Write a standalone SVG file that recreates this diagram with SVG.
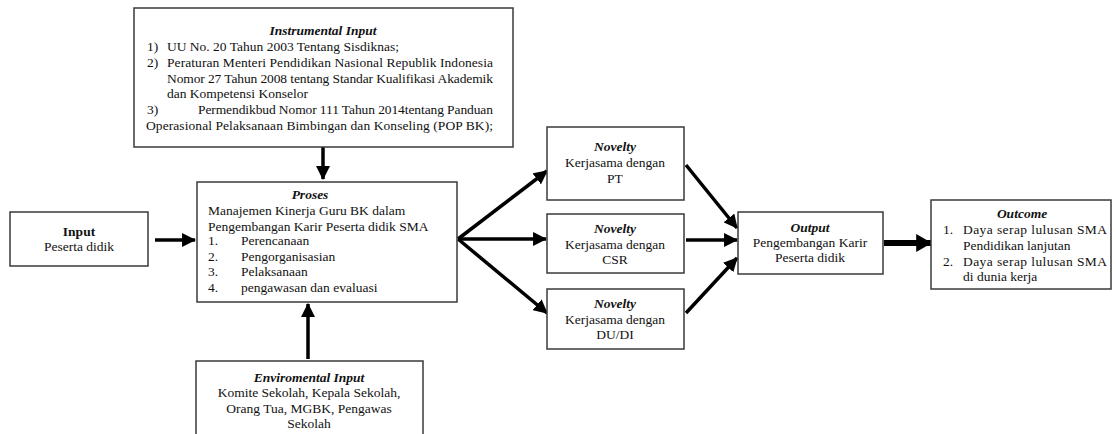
<svg xmlns="http://www.w3.org/2000/svg" width="1116" height="434" viewBox="0 0 1116 434">
<style>
.box{fill:#fff;stroke:#3a3a3a;stroke-width:1.5}
text{font-family:"Liberation Serif","Times New Roman",serif;font-size:13.5px;fill:#111}
.t{font-weight:bold;font-style:italic}
.b{font-weight:bold}
.c{text-anchor:middle}
.arr{stroke:#000;stroke-width:3.5;fill:none;marker-end:url(#ah)}
.arr2{stroke:#000;stroke-width:6;fill:none;marker-end:url(#ah2)}
</style>
<defs>
<marker id="ah" markerUnits="userSpaceOnUse" markerWidth="14" markerHeight="14" refX="12" refY="6.5" orient="auto" viewBox="0 0 13 13">
<path d="M0,0 L13,6.5 L0,13 Z" fill="#000"/>
</marker>
<marker id="ah2" markerUnits="userSpaceOnUse" markerWidth="16" markerHeight="18" refX="14" refY="8.5" orient="auto" viewBox="0 0 15 17">
<path d="M0,0 L15,8.5 L0,17 Z" fill="#000"/>
</marker>
</defs>
<g id="connectors">
<line class="arr" x1="323" y1="147" x2="323" y2="179"/>
<line class="arr" x1="155" y1="240" x2="195" y2="240"/>
<line class="arr" x1="308" y1="359" x2="308" y2="304"/>
<line class="arr" x1="458" y1="239" x2="547" y2="171"/>
<line class="arr" x1="458" y1="239" x2="546" y2="239"/>
<line class="arr" x1="458" y1="239" x2="547" y2="313"/>
<line class="arr" x1="686" y1="165" x2="737" y2="228"/>
<line class="arr" x1="686" y1="240" x2="737" y2="240"/>
<line class="arr" x1="686" y1="313" x2="737" y2="258"/>
<line class="arr2" x1="884" y1="243" x2="931" y2="243"/>
</g>
<g id="instrumental">
<rect class="box" x="134" y="8" width="379" height="139"/>
<text class="t c" x="323" y="35">Instrumental Input</text>
<text x="147" y="51">1)</text><text x="167" y="51">UU No. 20 Tahun 2003 Tentang Sisdiknas;</text>
<text x="147" y="67">2)</text><text x="167" y="67" textLength="326" lengthAdjust="spacing">Peraturan Menteri Pendidikan Nasional Republik Indonesia</text>
<text x="167" y="83" textLength="326" lengthAdjust="spacing">Nomor 27 Tahun 2008 tentang Standar Kualifikasi Akademik</text>
<text x="167" y="98">dan Kompetensi Konselor</text>
<text x="147" y="114">3)</text><text x="198" y="114" textLength="295" lengthAdjust="spacing">Permendikbud Nomor 111 Tahun 2014tentang Panduan</text>
<text x="146" y="130" textLength="347" lengthAdjust="spacing">Operasional Pelaksanaan Bimbingan dan Konseling (POP BK);</text>
</g>
<g id="input">
<rect class="box" x="10" y="212" width="138" height="54"/>
<text class="b c" x="79" y="236">Input</text>
<text class="c" x="79" y="251">Peserta didik</text>
</g>
<g id="proses">
<rect class="box" x="197" y="182" width="260" height="120"/>
<text class="t c" x="310" y="199">Proses</text>
<text x="208" y="215">Manajemen Kinerja Guru BK dalam</text>
<text x="208" y="231">Pengembangan Karir Peserta didik SMA</text>
<text x="208" y="245">1.</text><text x="241" y="245">Perencanaan</text>
<text x="208" y="261">2.</text><text x="241" y="261">Pengorganisasian</text>
<text x="208" y="276">3.</text><text x="241" y="276">Pelaksanaan</text>
<text x="208" y="292">4.</text><text x="241" y="292">pengawasan dan evaluasi</text>
</g>
<g id="environmental">
<rect class="box" x="196" y="361" width="227" height="80"/>
<text class="t c" x="309" y="382">Enviromental Input</text>
<text class="c" x="309" y="397">Komite Sekolah, Kepala Sekolah,</text>
<text class="c" x="309" y="413">Orang Tua, MGBK, Pengawas</text>
<text class="c" x="309" y="428">Sekolah</text>
</g>
<g id="novelty1">
<rect class="box" x="547" y="127" width="137" height="73"/>
<text class="t c" x="615" y="151">Novelty</text>
<text class="c" x="615" y="167">Kerjasama dengan</text>
<text class="c" x="615" y="183">PT</text>
</g>
<g id="novelty2">
<rect class="box" x="547" y="214" width="137" height="59"/>
<text class="t c" x="615" y="233">Novelty</text>
<text class="c" x="615" y="249">Kerjasama dengan</text>
<text class="c" x="615" y="264">CSR</text>
</g>
<g id="novelty3">
<rect class="box" x="547" y="289" width="137" height="60"/>
<text class="t c" x="615" y="308">Novelty</text>
<text class="c" x="615" y="324">Kerjasama dengan</text>
<text class="c" x="615" y="339">DU/DI</text>
</g>
<g id="output">
<rect class="box" x="738" y="212" width="145" height="62"/>
<text class="t c" x="810" y="232">Output</text>
<text class="c" x="810" y="247">Pengembangan Karir</text>
<text class="c" x="810" y="262">Peserta didik</text>
</g>
<g id="outcome">
<rect class="box" x="931" y="200" width="180" height="89"/>
<text class="t c" x="1022" y="218">Outcome</text>
<text x="943" y="234">1.</text><text x="963" y="234" textLength="144" lengthAdjust="spacing">Daya serap lulusan SMA</text>
<text x="963" y="250">Pendidikan lanjutan</text>
<text x="943" y="266">2.</text><text x="963" y="266" textLength="144" lengthAdjust="spacing">Daya serap lulusan SMA</text>
<text x="963" y="281">di dunia kerja</text>
</g>
</svg>
